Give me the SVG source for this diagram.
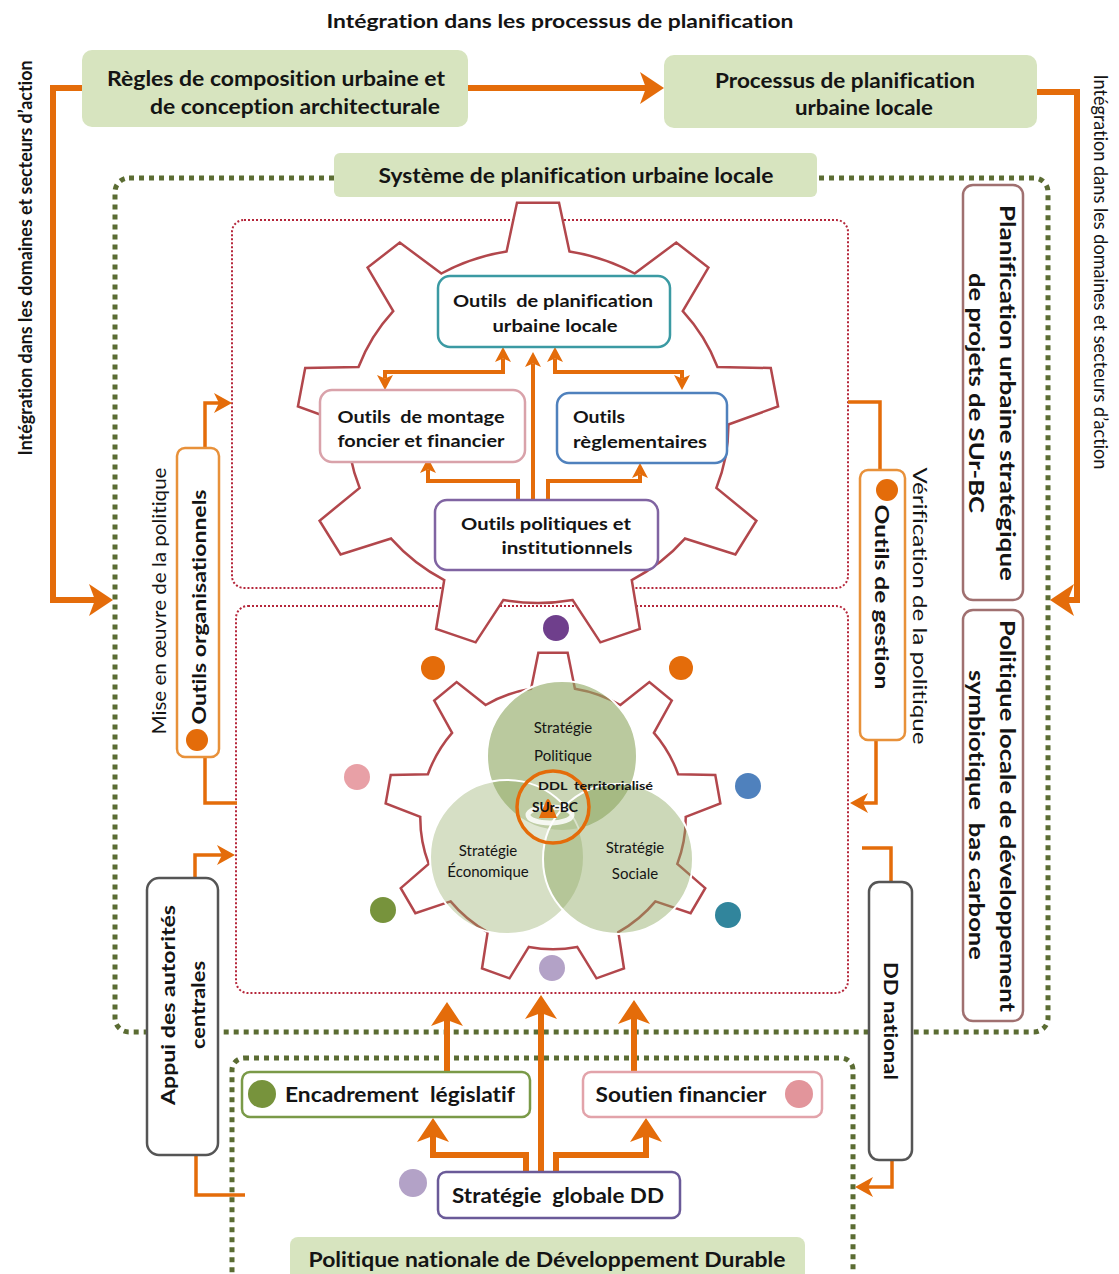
<svg xmlns="http://www.w3.org/2000/svg" xmlns:xlink="http://www.w3.org/1999/xlink" width="1119" height="1274" viewBox="0 0 1119 1274">
  <style>
    .t { font-family: Lato, "Liberation Sans", sans-serif; fill: #141414; font-variant-ligatures: none; font-feature-settings: "liga" 0, "clig" 0, "dlig" 0; }
    .b { font-weight: 700; }
    .c { text-anchor: middle; dominant-baseline: central; }
    .l { text-anchor: start; dominant-baseline: central; }
    .lbl { fill: #d7e4bf; }
    .conn { fill: none; stroke: #e46c0a; stroke-linejoin: miter; }
    .w6 { stroke-width: 6; }
    .w4 { stroke-width: 4; }
    .w3 { stroke-width: 3.5; }
    .gdots { fill: none; stroke: #5b6c33; stroke-width: 5; stroke-dasharray: 5 5; }
    .rdots { fill: none; stroke: #b5263a; stroke-width: 2; stroke-dasharray: 2 2; }
    .gearline { fill: #ffffff; stroke: #b2474c; stroke-width: 2.5; vector-effect: non-scaling-stroke; }
    .box { fill: #ffffff; stroke-width: 2.5; }
  </style>
  <defs>
    <!-- nine-tooth gear, tip radius 100, root radius 79 -->
    <path id="gear" class="gearline" d="M79,-0.69 L99.62,-8.72 L96.59,-25.88 L74.47,-26.37 A79,79 0 0 0 60.07,-51.31 L70.71,-70.71 L57.36,-81.92 L40.10,-68.07 A79,79 0 0 0 13.04,-77.92 L8.72,-99.62 L-8.72,-99.62 L-13.04,-77.92 A79,79 0 0 0 -40.10,-68.07 L-57.36,-81.92 L-70.71,-70.71 L-60.07,-51.31 A79,79 0 0 0 -74.47,-26.37 L-96.59,-25.88 L-99.62,-8.72 L-79,-0.69 A79,79 0 0 0 -74.00,27.67 L-90.63,42.26 L-81.92,57.36 L-60.96,50.25 A79,79 0 0 0 -38.90,68.76 L-42.26,90.63 L-25.88,96.59 L-14.40,77.68 A79,79 0 0 0 14.40,77.68 L25.88,96.59 L42.26,90.63 L38.90,68.76 A79,79 0 0 0 60.96,50.25 L81.92,57.36 L90.63,42.26 L74.00,27.67 A79,79 0 0 0 79,-0.69 Z"/>
    <marker id="ahS" viewBox="0 0 15 16" markerWidth="15" markerHeight="16" refX="3.5" refY="8" markerUnits="userSpaceOnUse" orient="auto-start-reverse">
      <path d="M0,0 L15,8 L0,16 L3.5,8 Z" fill="#e46c0a"/>
    </marker>
    <marker id="ahM" viewBox="0 0 18 20" markerWidth="18" markerHeight="20" refX="5" refY="10" markerUnits="userSpaceOnUse" orient="auto">
      <path d="M0,0 L18,10 L0,20 L5,10 Z" fill="#e46c0a"/>
    </marker>
    <marker id="ahL" viewBox="0 0 24 32" markerWidth="24" markerHeight="32" refX="6" refY="16" markerUnits="userSpaceOnUse" orient="auto">
      <path d="M0,0 L24,16 L0,32 L6,16 Z" fill="#e46c0a"/>
    </marker>
  </defs>

  <rect width="1119" height="1274" fill="#ffffff"/>

  <!-- frames -->
  <g id="frames">
    <rect class="gdots" x="115" y="178" width="933" height="854" rx="14"/>
    <rect class="gdots" x="232" y="1058" width="621" height="230" rx="12"/>
    <rect class="rdots" x="232" y="220" width="616" height="368" rx="12"/>
    <rect class="rdots" x="236" y="606" width="612" height="387" rx="12"/>
  </g>

  <!-- gears -->
  <g id="gear-top">
    <use xlink:href="#gear" transform="translate(538,426) scale(2.41,2.24)"/>
  </g>
  <g id="gear-bottom">
    <use xlink:href="#gear" transform="translate(553,818) scale(1.68,1.66)"/>
  </g>

  <!-- three strategies -->
  <g id="venn">
    <circle cx="562" cy="756" r="75" fill="#8fa862" fill-opacity="0.62" stroke="#ffffff" stroke-width="2"/>
    <circle cx="507" cy="857" r="77" fill="#8fa862" fill-opacity="0.37" stroke="#ffffff" stroke-width="2"/>
    <circle cx="618" cy="859" r="75" fill="#8fa862" fill-opacity="0.45" stroke="#ffffff" stroke-width="2"/>
    <text class="t c" x="563" y="727" font-size="15">Stratégie</text>
    <text class="t c" x="563" y="755" font-size="15">Politique</text>
    <text class="t c" x="488" y="850" font-size="15">Stratégie</text>
    <text class="t c" x="488" y="871" font-size="15">Économique</text>
    <text class="t c" x="635" y="847" font-size="15">Stratégie</text>
    <text class="t c" x="635" y="873" font-size="15">Sociale</text>
  </g>
  <g id="core">
    <circle cx="553" cy="807" r="36" fill="#ffffff" fill-opacity="0.25" stroke="#e46c0a" stroke-width="3.5"/>
    <ellipse cx="550" cy="815" rx="22" ry="8" fill="none" stroke="#ffffff" stroke-width="5" stroke-opacity="0.85"/>
    <path d="M539,818 L546,801 Q548,797 550,801 L557,818 Z" fill="#e46c0a"/>
    <text class="t b" x="538" y="790" font-size="12" textLength="115" lengthAdjust="spacingAndGlyphs">DDL&#160; territorialisé</text>
    <text class="t b" x="532" y="812" font-size="13" textLength="46" lengthAdjust="spacingAndGlyphs">SUr-BC</text>
  </g>

  <!-- coloured dots around the lower gear -->
  <g id="gear-dots">
    <circle cx="556" cy="628" r="13" fill="#6f3f8c"/>
    <circle cx="433" cy="668" r="12" fill="#e46c0a"/>
    <circle cx="681" cy="668" r="12" fill="#e46c0a"/>
    <circle cx="357" cy="777" r="13" fill="#e8a0a6"/>
    <circle cx="748" cy="786" r="13" fill="#4f81bd"/>
    <circle cx="383" cy="910" r="13" fill="#77933c"/>
    <circle cx="728" cy="915" r="13" fill="#31859c"/>
    <circle cx="552" cy="968" r="13" fill="#b3a2c7"/>
  </g>

  <!-- connectors -->
  <g id="connectors">
    <path class="conn w6" d="M468,88 H646" marker-end="url(#ahL)"/>
    <path class="conn w6" d="M82,88 H53 V600 H95" marker-end="url(#ahL)"/>
    <path class="conn w6" d="M1037,92 H1077 V600 H1068" marker-end="url(#ahL)"/>

    <path class="conn w4" d="M533,500 V363.5" marker-end="url(#ahS)"/>
    <path class="conn w4" d="M518,500 V481 H428 V469.5" marker-end="url(#ahS)"/>
    <path class="conn w4" d="M548,500 V481 H640 V474.5" marker-end="url(#ahS)"/>
    <path class="conn w4" d="M503,358.5 V372 H385 V378.5" marker-start="url(#ahS)" marker-end="url(#ahS)"/>
    <path class="conn w4" d="M555,358.5 V372 H682 V378.5" marker-start="url(#ahS)" marker-end="url(#ahS)"/>

    <path class="conn w3" d="M205,448 V403 H219" marker-end="url(#ahM)"/>
    <path class="conn w3" d="M205,757 V803 H237"/>
    <path class="conn w3" d="M880,470 V402 H848"/>
    <path class="conn w3" d="M876,740 V803 H863" marker-end="url(#ahM)"/>
    <path class="conn w3" d="M195,878 V855 H222" marker-end="url(#ahM)"/>
    <path class="conn w3" d="M196,1155 V1195 H245"/>
    <path class="conn w3" d="M891,882 V848 H862"/>
    <path class="conn w3" d="M892,1160 V1187 H868" marker-end="url(#ahM)"/>

    <path class="conn w6" d="M541,1172 V1013" marker-end="url(#ahL)"/>
    <path class="conn w6" d="M526,1172 V1155 H433 V1136" marker-end="url(#ahL)"/>
    <path class="conn w6" d="M556,1172 V1155 H646 V1136" marker-end="url(#ahL)"/>
    <path class="conn w6" d="M447,1072 V1020" marker-end="url(#ahL)"/>
    <path class="conn w6" d="M634,1072 V1018" marker-end="url(#ahL)"/>
  </g>

  <!-- top row -->
  <g id="title">
    <text class="t b c" x="560" y="21" font-size="18" textLength="467" lengthAdjust="spacingAndGlyphs">Intégration dans les processus de planification</text>
  </g>
  <g id="regles">
    <rect class="lbl" x="82" y="50" width="386" height="77" rx="10"/>
    <text class="t b c" x="276" y="77" font-size="21" textLength="338" lengthAdjust="spacingAndGlyphs">Règles de composition urbaine et</text>
    <text class="t b c" x="295" y="105" font-size="21" textLength="290" lengthAdjust="spacingAndGlyphs">de conception architecturale</text>
  </g>
  <g id="processus">
    <rect class="lbl" x="664" y="55" width="373" height="73" rx="10"/>
    <text class="t b c" x="845" y="79" font-size="21" textLength="260" lengthAdjust="spacingAndGlyphs">Processus de planification</text>
    <text class="t b c" x="864" y="106" font-size="21" textLength="138" lengthAdjust="spacingAndGlyphs">urbaine locale</text>
  </g>
  <g id="side-labels">
    <text class="t b c" transform="translate(24,258) rotate(-90)" font-size="19" textLength="395" lengthAdjust="spacingAndGlyphs">Intégration dans les domaines et secteurs d’action</text>
    <text class="t c" transform="translate(1101,272) rotate(90)" font-size="19" textLength="395" lengthAdjust="spacingAndGlyphs">Intégration dans les domaines et secteurs d’action</text>
    <text class="t c" transform="translate(158,601) rotate(-90)" font-size="19" textLength="267" lengthAdjust="spacingAndGlyphs">Mise en œuvre de la politique</text>
    <text class="t c" transform="translate(920,606) rotate(90)" font-size="19" textLength="277" lengthAdjust="spacingAndGlyphs">Vérification de la politique</text>
  </g>
  <g id="systeme">
    <rect class="lbl" x="334" y="153" width="483" height="44" rx="6"/>
    <text class="t b c" x="576" y="175" font-size="20" textLength="395" lengthAdjust="spacingAndGlyphs">Système de planification urbaine locale</text>
  </g>

  <!-- tools inside the upper gear -->
  <g id="outils-planification">
    <rect class="box" x="438" y="276" width="232" height="71" rx="12" stroke="#3b9aa3"/>
    <text class="t b c" x="553" y="300" font-size="17" textLength="200" lengthAdjust="spacingAndGlyphs">Outils&#160; de planification</text>
    <text class="t b c" x="555" y="325" font-size="17" textLength="125" lengthAdjust="spacingAndGlyphs">urbaine locale</text>
  </g>
  <g id="outils-montage">
    <rect class="box" x="320" y="390" width="205" height="72" rx="12" stroke="#d9a2aa"/>
    <text class="t b c" x="421" y="416" font-size="17" textLength="167" lengthAdjust="spacingAndGlyphs">Outils&#160; de montage</text>
    <text class="t b c" x="421" y="440" font-size="17" textLength="167" lengthAdjust="spacingAndGlyphs">foncier et financier</text>
  </g>
  <g id="outils-reglementaires">
    <rect class="box" x="557" y="393" width="170" height="70" rx="12" stroke="#4f81bd"/>
    <text class="t b l" x="573" y="416" font-size="17" textLength="52" lengthAdjust="spacingAndGlyphs">Outils</text>
    <text class="t b l" x="573" y="441" font-size="17" textLength="134" lengthAdjust="spacingAndGlyphs">règlementaires</text>
  </g>
  <g id="outils-politiques">
    <rect class="box" x="435" y="500" width="223" height="70" rx="12" stroke="#8064a2"/>
    <text class="t b c" x="546" y="523" font-size="17" textLength="170" lengthAdjust="spacingAndGlyphs">Outils politiques et</text>
    <text class="t b c" x="567" y="547" font-size="17" textLength="131" lengthAdjust="spacingAndGlyphs">institutionnels</text>
  </g>

  <!-- side tools -->
  <g id="outils-organisationnels">
    <rect class="box" x="177" y="448" width="42" height="309" rx="8" stroke="#e8913a" stroke-width="2"/>
    <circle cx="197" cy="740" r="11" fill="#e46c0a"/>
    <text class="t b c" transform="translate(198,607) rotate(-90)" font-size="19" textLength="235" lengthAdjust="spacingAndGlyphs">Outils organisationnels</text>
  </g>
  <g id="outils-gestion">
    <rect class="box" x="860" y="470" width="45" height="270" rx="8" stroke="#e8913a" stroke-width="2"/>
    <circle cx="887" cy="490" r="11" fill="#e46c0a"/>
    <text class="t b c" transform="translate(882,597) rotate(90)" font-size="19" textLength="185" lengthAdjust="spacingAndGlyphs">Outils de gestion</text>
  </g>
  <g id="appui">
    <rect class="box" x="147" y="878" width="71" height="277" rx="12" stroke="#555555" stroke-width="2"/>
    <text class="t b c" transform="translate(167,1005) rotate(-90)" font-size="19" textLength="200" lengthAdjust="spacingAndGlyphs">Appui des autorités</text>
    <text class="t b c" transform="translate(197,1005) rotate(-90)" font-size="19" textLength="88" lengthAdjust="spacingAndGlyphs">centrales</text>
  </g>
  <g id="dd-national">
    <rect class="box" x="869" y="882" width="43" height="278" rx="10" stroke="#555555" stroke-width="2"/>
    <text class="t b c" transform="translate(891,1021) rotate(90)" font-size="19" textLength="118" lengthAdjust="spacingAndGlyphs">DD national</text>
  </g>

  <!-- right column -->
  <g id="planification-strategique">
    <rect class="box" x="963" y="185" width="60" height="415" rx="10" stroke="#a07070" stroke-width="1.8"/>
    <text class="t b c" transform="translate(1008,393) rotate(90)" font-size="21" textLength="376" lengthAdjust="spacingAndGlyphs">Planification urbaine stratégique</text>
    <text class="t b c" transform="translate(977,393) rotate(90)" font-size="21" textLength="240" lengthAdjust="spacingAndGlyphs">de projets de SUr-BC</text>
  </g>
  <g id="politique-locale">
    <rect class="box" x="963" y="610" width="60" height="411" rx="10" stroke="#a07070" stroke-width="1.8"/>
    <text class="t b c" transform="translate(1008,816) rotate(90)" font-size="21" textLength="392" lengthAdjust="spacingAndGlyphs">Politique locale de développement</text>
    <text class="t b c" transform="translate(977,815) rotate(90)" font-size="21" textLength="290" lengthAdjust="spacingAndGlyphs">symbiotique&#160; bas carbone</text>
  </g>

  <!-- national level -->
  <g id="encadrement">
    <rect class="box" x="242" y="1072" width="288" height="45" rx="8" stroke="#7a9a48"/>
    <circle cx="262" cy="1094" r="14" fill="#77933c"/>
    <text class="t b c" x="400" y="1094" font-size="20" textLength="230" lengthAdjust="spacingAndGlyphs">Encadrement&#160; législatif</text>
  </g>
  <g id="soutien">
    <rect class="box" x="583" y="1072" width="239" height="45" rx="8" stroke="#e2a3aa"/>
    <circle cx="799" cy="1094" r="14" fill="#e2959b"/>
    <text class="t b c" x="681" y="1094" font-size="20" textLength="171" lengthAdjust="spacingAndGlyphs">Soutien financier</text>
  </g>
  <g id="strategie-globale">
    <rect class="box" x="438" y="1172" width="242" height="46" rx="8" stroke="#6a5a98"/>
    <circle cx="413" cy="1183" r="14" fill="#b3a2c7"/>
    <text class="t b c" x="558" y="1195" font-size="20" textLength="212" lengthAdjust="spacingAndGlyphs">Stratégie&#160; globale DD</text>
  </g>
  <g id="politique-nationale">
    <rect class="lbl" x="290" y="1237" width="515" height="50" rx="8"/>
    <text class="t b c" x="547" y="1259" font-size="20" textLength="477" lengthAdjust="spacingAndGlyphs">Politique nationale de Développement Durable</text>
  </g>
</svg>
